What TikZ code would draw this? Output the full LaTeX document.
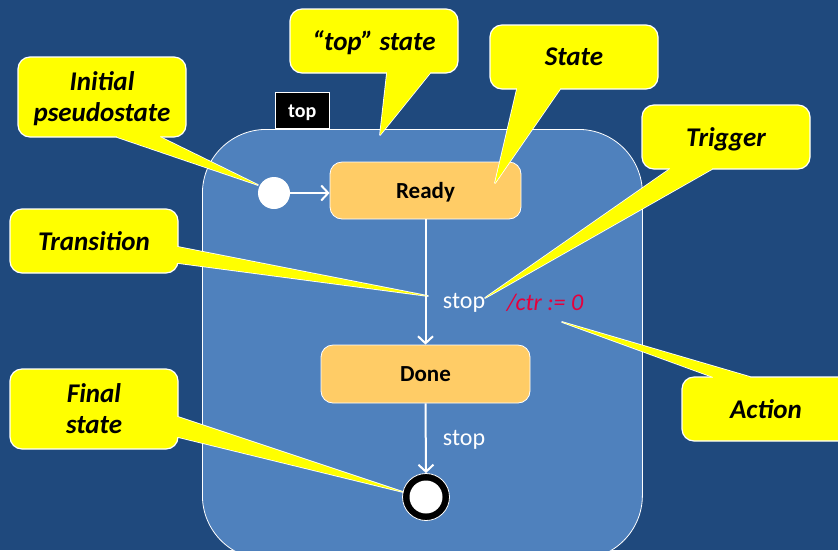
\documentclass[tikz,border=0pt]{standalone}
\usepackage{fontspec}
\setmainfont{Carlito}
\usetikzlibrary{arrows.meta}
\definecolor{bgblue}{RGB}{31,73,125}
\definecolor{topblue}{RGB}{79,129,189}
\definecolor{stateor}{RGB}{255,204,102}
\definecolor{callyel}{RGB}{255,255,0}
\definecolor{actred}{RGB}{230,0,60}
\tikzset{
  statebox/.style={draw=white, line width=0.8pt, fill=stateor, rounded corners=12pt, font=\fontsize{23}{26}\selectfont\bfseries, text=black, text depth=0pt},
  callbox/.style={draw=white, line width=1.2pt, fill=callyel, rounded corners=12pt, font=\fontsize{27}{32}\selectfont\bfseries\itshape, text=black, align=center, minimum width=168pt, text depth=0pt},
  ptrline/.style={draw=white, line width=1.6pt, line join=round},
  ptrfill/.style={fill=callyel},
  trans/.style={draw=white, line width=2pt, -{Straight Barb[length=7pt,width=15pt,line width=2pt]}},
  evlabel/.style={text=white, font=\fontsize{24}{28}\selectfont},
}
\begin{document}
\begin{tikzpicture}[x=1pt,y=-1pt]
\useasboundingbox (0,0) rectangle (838,550);
\fill[bgblue] (0,0) rectangle (838,550);
\begin{scope}
\clip (0,0) rectangle (838,550);
% top state
\node[draw=white, line width=0.8pt, fill=topblue, rounded corners=64pt, minimum width=440pt, minimum height=430pt, anchor=north west] (topst) at (202,129) {};
\node[draw=white, line width=0.6pt, fill=black, minimum width=54pt, minimum height=36pt, text=white, font=\fontsize{20}{24}\selectfont\bfseries, text depth=0pt, anchor=south west] (toptab) at (275,129) {top};
% states
\node[fill=white, circle, minimum size=32pt, inner sep=0pt] (init) at (274,193) {};
\node[statebox, minimum width=191pt, minimum height=57pt] (ready) at (425.5,190.5) {Ready};
\node[statebox, minimum width=209pt, minimum height=58pt] (done) at (425.5,374) {Done};
\node[circle, fill=black, draw=white, line width=0.8pt, minimum size=47pt, inner sep=0pt] (final) at (426,497) {};
\node[circle, fill=white, minimum size=33pt, inner sep=0pt] (finalin) at (426,497) {};
% transitions
\draw[trans] (init.east) -- (init.east -| ready.west);
\draw[trans] (ready.south) -- (done.north);
\draw[trans] (done.south) -- (final.north);
\node[evlabel] (stop1) at (464,303) {stop};
\node[text=actred, font=\fontsize{24}{28}\selectfont\itshape] (act1) at (545,303) {/ctr := 0};
\node[evlabel] (stop2) at (464,440) {stop};

% callout: Initial pseudostate
\coordinate (tinit) at (258,185);
\draw[ptrline] (117,137) -- (tinit) -- (160,137) -- cycle;
\node[callbox, minimum height=80pt] (cinit) at (102,97) {Initial\\[-1pt]pseudostate};
\fill[ptrfill] (117,130) -- (117,137) -- (tinit) -- (160,137) -- (160,130) -- cycle;
% callout: "top" state
\coordinate (ttop) at (380,135);
\draw[ptrline] (387,73) -- (ttop) -- (430,73) -- cycle;
\node[callbox, minimum height=64pt] (ctop) at (374,41) {“top” state};
\fill[ptrfill] (387,66) -- (387,73) -- (ttop) -- (430,73) -- (430,66) -- cycle;
% callout: State
\coordinate (tstate) at (495,183);
\draw[ptrline] (517,89) -- (tstate) -- (560,89) -- cycle;
\node[callbox, minimum height=64pt] (cstate) at (574,57) {State};
\fill[ptrfill] (517,82) -- (517,89) -- (tstate) -- (560,89) -- (560,82) -- cycle;
% callout: Trigger
\coordinate (ttrig) at (485,298);
\draw[ptrline] (670,169) -- (ttrig) -- (712,169) -- cycle;
\node[callbox, minimum height=64pt] (ctrig) at (726,137) {Trigger};
\fill[ptrfill] (670,162) -- (670,169) -- (ttrig) -- (712,169) -- (712,162) -- cycle;
% callout: Transition
\coordinate (ttrans) at (428,296);
\draw[ptrline] (178,247) -- (ttrans) -- (178,263) -- cycle;
\node[callbox, minimum height=64pt] (ctrans) at (94,241) {Transition};
\fill[ptrfill] (171,247) -- (178,247) -- (ttrans) -- (178,263) -- (171,263) -- cycle;
% callout: Final state
\coordinate (tfinal) at (403,492);
\draw[ptrline] (178,417) -- (tfinal) -- (178,437) -- cycle;
\node[callbox, minimum height=80pt] (cfinal) at (94,409) {Final\\[-1pt]state};
\fill[ptrfill] (171,417) -- (178,417) -- (tfinal) -- (178,437) -- (171,437) -- cycle;
% callout: Action
\coordinate (tact) at (562,322);
\draw[ptrline] (713,377) -- (tact) -- (750,377) -- cycle;
\node[callbox, minimum height=64pt] (cact) at (766,409) {Action};
\fill[ptrfill] (713,384) -- (713,377) -- (tact) -- (750,377) -- (750,384) -- cycle;
\end{scope}
\end{tikzpicture}
\end{document}
